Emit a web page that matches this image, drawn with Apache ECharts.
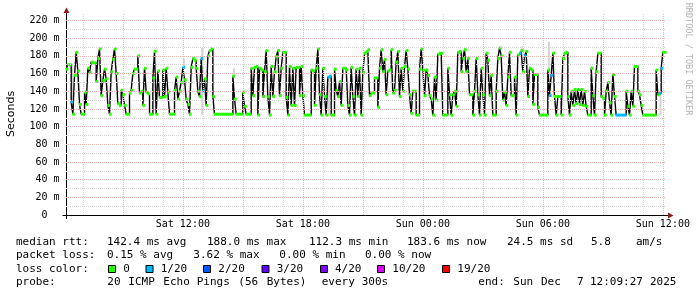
<!DOCTYPE html>
<html>
<head>
<meta charset="utf-8">
<script src="https://cdn.jsdelivr.net/npm/echarts@6.0.0/dist/echarts.min.js"></script>
<style>
html,body{margin:0;padding:0;background:#ffffff;}
#chart{width:697px;height:297px;}
</style>
</head>
<body>
<div id="chart"></div>
<script>
// ---------------- data ----------------
// sample times: minutes after Sat 00:00 (RRD step 300 s)
const times = [
  370,375,385,390,395,400,405,410,415,425,
  430,435,440,445,450,460,465,470,475,480,
  485,490,495,500,505,510,515,520,525,530,
  535,540,545,550,560,565,570,575,585,590,
  595,600,605,610,615,620,630,635,640,645,
  650,660,665,670,675,680,695,700,705,710,
  715,720,725,730,735,740,745,750,755,760,
  765,770,775,780,785,790,795,800,805,810,
  815,870,875,880,900,905,910,925,930,935,
  940,945,950,955,960,965,970,975,980,985,
  990,995,1000,1005,1010,1015,1020,1030,1035,1040,
  1045,1050,1055,1060,1070,1075,1080,1085,1105,1110,
  1115,1120,1125,1130,1135,1140,1145,1150,1155,1160,
  1165,1175,1180,1185,1190,1195,1200,1210,1215,1220,
  1225,1230,1235,1240,1245,1250,1255,1260,1265,1270,
  1275,1280,1285,1295,1305,1310,1315,1320,1325,1330,
  1335,1340,1345,1350,1355,1360,1365,1370,1375,1380,
  1385,1390,1395,1400,1405,1410,1420,1430,1435,1440,
  1445,1450,1455,1460,1465,1470,1475,1480,1485,1490,
  1495,1500,1515,1520,1525,1530,1535,1540,1545,1550,
  1555,1560,1565,1570,1575,1580,1590,1595,1600,1605,
  1610,1615,1620,1625,1630,1635,1640,1645,1650,1660,
  1665,1670,1675,1680,1685,1690,1695,1700,1705,1715,
  1720,1725,1730,1735,1740,1745,1750,1755,1760,1765,
  1770,1775,1785,1790,1815,1820,1825,1830,1835,1840,
  1845,1855,1860,1865,1870,1875,1880,1885,1890,1895,
  1900,1905,1910,1915,1920,1925,1930,1935,1945,1950,
  1955,1960,1965,1975,1980,1985,1990,1995,2000,2005,
  2010,2015,2020,2050,2055,2060,2065,2070,2075,2085,
  2090,2095,2100,2140,2145,2150,2155,2160
];
// median rtt in ms at each sample time
const medians = [
  165,170,128,114,158,184,163,125,114,139,
  125,166,161,173,172,151,177,188,135,152,
  165,154,124,114,162,176,188,160,126,124,
  141,136,124,114,138,141,160,165,180,138,
  140,124,166,139,137,114,155,185,114,163,
  133,164,134,166,139,114,141,156,131,140,
  150,167,153,131,125,114,167,177,175,166,
  140,134,177,140,154,124,180,186,188,134,
  114,157,131,114,139,123,114,166,135,167,
  168,113,166,164,134,162,186,134,113,168,
  134,162,179,186,135,166,184,133,113,168,
  124,166,124,167,135,168,135,113,164,163,
  124,166,188,136,113,166,134,113,156,157,
  113,165,141,134,151,124,166,164,124,113,
  167,134,113,165,134,166,113,161,183,185,
  187,135,138,155,122,166,187,162,176,136,
  163,164,187,138,141,173,185,134,166,140,
  168,186,165,136,115,140,113,165,188,164,
  135,164,158,135,131,113,156,130,182,183,
  183,113,166,136,113,136,140,123,184,185,
  162,177,187,162,177,136,113,140,177,136,
  113,166,136,113,183,175,135,158,113,140,
  177,189,180,130,139,124,156,184,135,156,
  113,181,183,186,162,180,185,134,166,164,
  125,159,122,113,164,135,158,183,134,113,
  134,113,177,183,184,134,113,140,124,142,
  126,142,125,142,124,140,123,113,166,135,
  113,162,183,134,132,113,140,150,127,113,
  159,134,113,140,123,113,140,123,168,140,
  136,124,113,164,136,138,166,184
];
// samples with packet loss (lost pings out of 20)
const lossTimes  = [385, 720, 775, 780, 1155, 1160, 1730, 1745, 1820, 1825, 2020, 2150, 2155];
const lossCounts = [1, 1, 1, 1, 1, 1, 1, 1, 1, 1, 1, 1, 1];
// "smoke" (spread of the 20 pings) where it is visible
const smokeTimes = [385, 720, 775, 870, 1155, 1735, 1815, 2150];
const smokeLow   = [130, 165, 113, 157, 113, 185, 134, 113];
const smokeHigh  = [170, 177, 189, 166, 156, 191, 196, 140];
// time window: Sat 06:09:27 .. Sun 12:09:27
const START = 369.45, END = 2169.45, STEP = 5;
// axis ticks / grid
const xLabelTimes = [720, 1080, 1440, 1800, 2160];
const xMajorHours = [9, 12, 15, 18, 21, 24, 27, 30, 33, 36];
const xMinorHours = [7, 9, 11, 13, 15, 17, 19, 21, 23, 25, 27, 29, 31, 33, 35];
const yMajor = [20, 40, 60, 80, 100, 120, 140, 160, 180, 200, 220];
const yMinor = [10, 30, 50, 70, 90, 110, 130, 150, 170, 190, 210];
// loss colour legend
const lossLabels     = ['0', '1/20', '2/20', '3/20', '4/20', '10/20', '19/20'];
const lossThresholds = [0, 1, 2, 3, 4, 10, 19];
const lossColors     = ['#26ff00', '#00b8ff', '#0059ff', '#5e00ff', '#7e00ff', '#dd00ff', '#ff0000'];
// legend text
const statLines = [
  [['median rtt:',16],['142.4 ms avg',107],['188.0 ms max',207],['112.3 ms min',309],['183.6 ms now',407],['24.5 ms sd',507],['5.8',591],['am/s',636]],
  [['packet loss:',16],['0.15 % avg',107],['3.62 % max',193.3],['0.00 % min',279.3],['0.00 % now',365]],
  [['loss color:',16]],
  [['probe:',16],['20',107.3],['ICMP',128.3],['Echo',163.3],['Pings',196.7],['(56',238.3],['Bytes)',266.7],['every',321.7],['300s',361.7],
   ['end:',478.3],['Sun',513.3],['Dec',541],['7',577],['12:09:27',590],['2025',650]]
];
const statLineY = [241.7, 255, 269, 282.3];
const lossBoxX = [108.5, 146, 203.5, 262, 320.5, 377.5, 442.5];
const lossTextX = [123.3, 160.7, 218.3, 276.7, 335, 392.3, 457.3];

// ---------------- build ----------------
const MONO = '"DejaVu Sans Mono", "Liberation Mono", monospace';
function pad(n){ return (n < 10 ? '0' : '') + n; }
function fmtTime(v){
  const day = v < 1440 ? 'Sat' : 'Sun';
  const m = Math.round(v) % 1440;
  return day + ' ' + pad(Math.floor(m / 60)) + ':' + pad(m % 60);
}
function lossColor(n){
  let c = lossColors[0];
  for (let i = 0; i < lossThresholds.length; i++) if (n >= lossThresholds[i]) c = lossColors[i];
  return c;
}
const lossMap = {};
lossTimes.forEach((t, i) => { lossMap[t] = lossCounts[i]; });

const lineData = times.map((t, i) => [t, medians[i]]);
lineData.push([END, medians[medians.length - 1]]);
const medianData = times.map((t, i) => [t, medians[i], i + 1 < times.length ? times[i + 1] : END, lossMap[t] || 0]);
const smokeData = smokeTimes.map((t, i) => [t, smokeLow[i], smokeHigh[i]]);

const gridStyleMinor = { color: '#d6d6d6', width: 1, type: [1, 1] };
const gridStyleMajor = { color: '#efb6b6', width: 1, type: [1, 1] };
const markMinor = xMinorHours.map(h => ({ xAxis: h * 60 })).concat(yMinor.map(v => ({ yAxis: v })));
const markMajor = xMajorHours.map(h => ({ xAxis: h * 60 })).concat(yMajor.map(v => ({ yAxis: v })));

const graphic = [];
// axis extensions and arrows
graphic.push({ type: 'line', shape: { x1: 62.5, y1: 215.5, x2: 669, y2: 215.5 }, style: { stroke: '#000', lineWidth: 1 }, silent: true });
graphic.push({ type: 'line', shape: { x1: 66.5, y1: 219, x2: 66.5, y2: 11 }, style: { stroke: '#000', lineWidth: 1 }, silent: true });
graphic.push({ type: 'polygon', shape: { points: [[673.5, 215.5], [668, 212.5], [668, 218.5]] }, style: { fill: '#8b1e1e' }, silent: true });
graphic.push({ type: 'polygon', shape: { points: [[66.5, 7.5], [63.5, 13], [69.5, 13]] }, style: { fill: '#8b1e1e' }, silent: true });
// y-axis title
graphic.push({ type: 'text', x: 11, y: 114, rotation: Math.PI / 2,
  style: { text: 'Seconds', font: '11px "DejaVu Sans", sans-serif', fill: '#000', align: 'center', verticalAlign: 'middle' }, silent: true });
// watermark
graphic.push({ type: 'text', x: 688, y: 59, rotation: -Math.PI / 2,
  style: { text: 'RRDTOOL / TOBI OETIKER', font: '8.5px ' + MONO, fill: '#b4b4b4', align: 'center', verticalAlign: 'middle' }, silent: true });
// statistics lines
statLines.forEach((line, li) => {
  line.forEach(([txt, x]) => {
    graphic.push({ type: 'text', x: x, y: statLineY[li],
      style: { text: txt, font: '11px ' + MONO, fill: '#000', align: 'left', verticalAlign: 'middle' }, silent: true });
  });
});
// loss colour legend boxes
lossLabels.forEach((lab, i) => {
  graphic.push({ type: 'rect', shape: { x: lossBoxX[i], y: 265.5, width: 7, height: 7 },
    style: { fill: lossColors[i], stroke: '#000', lineWidth: 1 }, silent: true });
  graphic.push({ type: 'text', x: lossTextX[i], y: statLineY[2],
    style: { text: lab, font: '11px ' + MONO, fill: '#000', align: 'left', verticalAlign: 'middle' }, silent: true });
});

const chart = echarts.init(document.getElementById('chart'), null, { renderer: 'canvas' });
chart.setOption({
  animation: false,
  backgroundColor: '#ffffff',
  grid: { left: 66, right: 31, top: 13.45, bottom: 82, containLabel: false, outerBoundsMode: 'none' },
  xAxis: {
    type: 'value', min: START, max: END,
    axisLine: { show: false }, axisTick: { show: false }, splitLine: { show: false },
    axisLabel: {
      customValues: xLabelTimes, formatter: v => fmtTime(v),
      color: '#000', fontFamily: MONO, fontSize: 10, margin: 4, hideOverlap: false
    }
  },
  yAxis: {
    type: 'value', min: 0, max: 228, interval: 20,
    axisLine: { show: false }, axisTick: { show: false }, splitLine: { show: false },
    axisLabel: {
      showMaxLabel: false, color: '#000', fontFamily: MONO, fontSize: 10, margin: 6.5,
      formatter: v => (v === 0 ? '0  ' : (v % 20 === 0 ? v + ' m' : ''))
    }
  },
  graphic: graphic,
  series: [
    { type: 'line', data: [], z: 1, silent: true,
      markLine: { silent: true, symbol: ['none', 'none'], label: { show: false }, animation: false,
        lineStyle: gridStyleMinor, data: markMinor } },
    { type: 'line', data: [], z: 1, silent: true,
      markLine: { silent: true, symbol: ['none', 'none'], label: { show: false }, animation: false,
        lineStyle: gridStyleMajor, data: markMajor } },
    { type: 'custom', z: 2, silent: true, data: smokeData,
      encode: { x: 0, y: [1, 2] },
      renderItem: (params, api) => {
        const t = api.value(0);
        const p0 = api.coord([t, api.value(2)]);
        const p1 = api.coord([t + STEP, api.value(1)]);
        return { type: 'rect', shape: { x: p0[0], y: p0[1], width: Math.max(p1[0] - p0[0], 2), height: p1[1] - p0[1] },
          style: { fill: '#d4d4d4' } };
      } },
    { type: 'line', z: 3, silent: true, data: lineData, step: 'end', showSymbol: false,
      lineStyle: { color: '#000', width: 1.4 } },
    { type: 'custom', z: 4, silent: true, data: medianData,
      encode: { x: [0, 2], y: 1 },
      renderItem: (params, api) => {
        const v = api.value(1);
        const p0 = api.coord([api.value(0), v]);
        const p1 = api.coord([api.value(2), v]);
        return { type: 'rect', shape: { x: p0[0] - 0.5, y: p0[1] - 1.5, width: Math.max(p1[0] - p0[0] + 1, 2), height: 3 },
          style: { fill: lossColor(api.value(3)) } };
      } }
  ]
});
</script>
</body>
</html>
